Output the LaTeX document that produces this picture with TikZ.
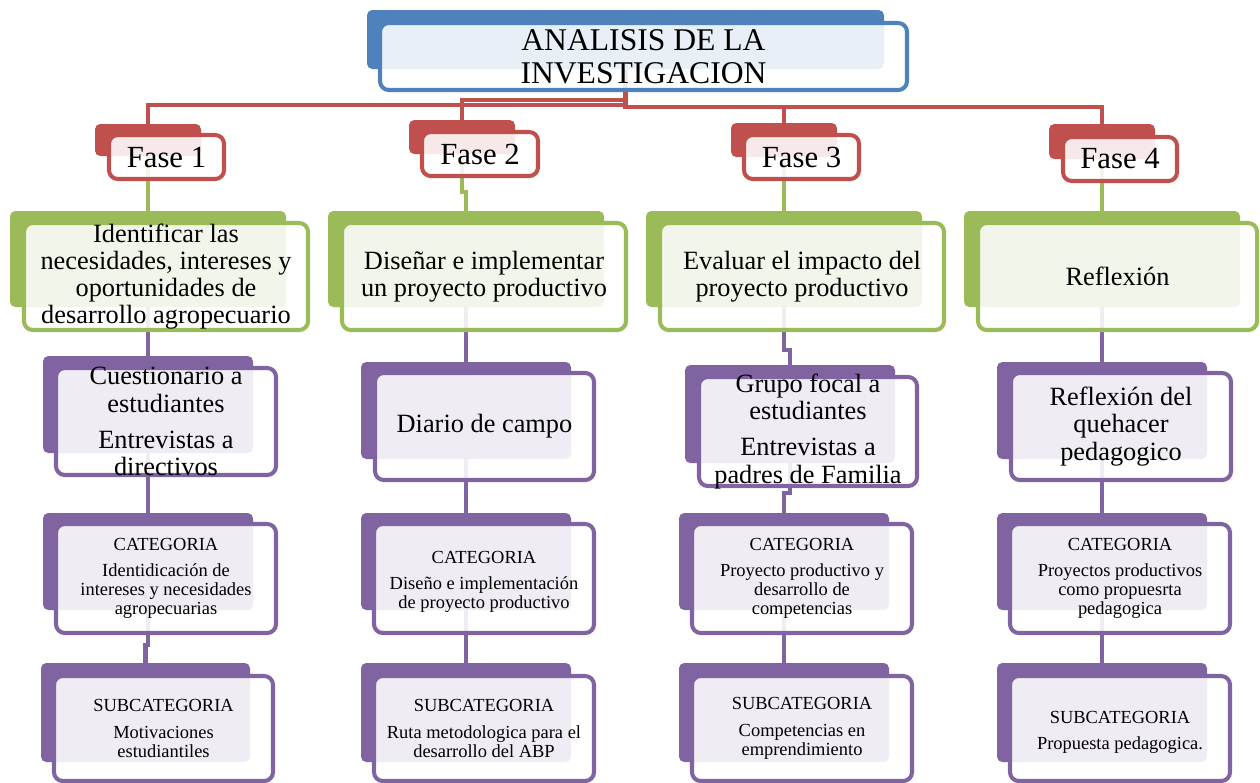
\documentclass[tikz,border=0pt]{standalone}
\usepackage{fontspec}
\setmainfont{Liberation Serif}
\usetikzlibrary{fit,backgrounds}
\definecolor{ttlBlue}{RGB}{79,129,189}
\definecolor{faseRed}{RGB}{192,80,77}
\definecolor{etapaGreen}{RGB}{155,187,89}
\definecolor{instPurple}{RGB}{128,100,162}

\begin{document}
\begin{tikzpicture}[x=0.02cm,y=-0.02cm]
  \tikzset{back/.style = {rounded corners=3pt, fill=#1, draw=none, inner sep=0pt}}
  \tikzset{front/.style = {rounded corners=5pt, draw=#1, line width=2.3pt, fill=white, fill opacity=0.88, inner sep=0pt}}
  \tikzset{link/.style = {draw=#1, line width=2.6pt}}
  \tikzset{txt/.style = {align=center, inner sep=0pt}}
  \tikzset{bigtxt/.style = {txt, font=\fontsize{15}{15.5}\selectfont}}
  \tikzset{smalltxt/.style = {txt, font=\fontsize{10.5}{10.9}\selectfont}}

\useasboundingbox (0,0) rectangle (1260,782);

\node[back=ttlBlue, fit={(367,10) (884,69)}] (tb) {};
\node[front=ttlBlue, fit={(380,23) (907,90)}] (tf) {};
\node[txt, font=\fontsize{18}{18.7}\selectfont] (tt) at (tf.center) {ANALISIS DE LA\\INVESTIGACION};

\node[back=faseRed, fit={(95,124) (201,156)}] (f1b) {};
\node[front=faseRed, fit={(109,135) (224,179)}] (f1) {};
\node[txt, font=\fontsize{17.5}{18}\selectfont] (f1t) at (f1.center) {Fase 1};
\node[back=faseRed, fit={(409,120) (515,154)}] (f2b) {};
\node[front=faseRed, fit={(422,132) (538,176)}] (f2) {};
\node[txt, font=\fontsize{17.5}{18}\selectfont] (f2t) at (f2.center) {Fase 2};
\node[back=faseRed, fit={(731,123) (837,157)}] (f3b) {};
\node[front=faseRed, fit={(744,135) (859,179)}] (f3) {};
\node[txt, font=\fontsize{17.5}{18}\selectfont] (f3t) at (f3.center) {Fase 3};
\node[back=faseRed, fit={(1049,124) (1155,159)}] (f4b) {};
\node[front=faseRed, fit={(1063,137) (1177,181)}] (f4) {};
\node[txt, font=\fontsize{17.5}{18}\selectfont] (f4t) at (f4.center) {Fase 4};

\node[back=etapaGreen, fit={(10,211) (286,307)}] (e1b) {};
\node[front=etapaGreen, fit={(24,223) (308,330)}] (e1) {};
\node[bigtxt] (e1t) at (e1.center) {Identificar las\\necesidades, intereses y\\oportunidades de\\desarrollo agropecuario};
\node[back=etapaGreen, fit={(328,211) (604,307)}] (e2b) {};
\node[front=etapaGreen, fit={(342,223) (626,330)}] (e2) {};
\node[bigtxt] (e2t) at (e2.center) {Diseñar e implementar\\un proyecto productivo};
\node[back=etapaGreen, fit={(646,211) (922,307)}] (e3b) {};
\node[front=etapaGreen, fit={(660,223) (944,330)}] (e3) {};
\node[bigtxt] (e3t) at (e3.center) {Evaluar el impacto del\\proyecto productivo};
\node[back=etapaGreen, fit={(964,211) (1240,307)}] (e4b) {};
\node[front=etapaGreen, fit={(978,223) (1257,330)}] (e4) {};
\node[bigtxt] (e4t) at (e4.center) {Reflexión};

\node[back=instPurple, fit={(43,356) (253,453)}] (p11b) {};
\node[front=instPurple, fit={(56,368) (276,475)}] (p11) {};
\node[bigtxt] (p11t) at (p11.center) {Cuestionario a\\estudiantes\\[5pt]Entrevistas a\\directivos};
\node[back=instPurple, fit={(361,362) (571,459)}] (p21b) {};
\node[front=instPurple, fit={(375,373) (594,480)}] (p21) {};
\node[bigtxt] (p21t) at (p21.center) {Diario de campo};
\node[back=instPurple, fit={(685,365) (895,463)}] (p31b) {};
\node[front=instPurple, fit={(699,377) (917,486)}] (p31) {};
\node[bigtxt] (p31t) at (p31.center) {Grupo focal a\\estudiantes\\[5pt]Entrevistas a\\padres de Familia};
\node[back=instPurple, fit={(997,362) (1207,459)}] (p41b) {};
\node[front=instPurple, fit={(1011,373) (1231,480)}] (p41) {};
\node[bigtxt] (p41t) at (p41.center) {Reflexión del\\quehacer\\pedagogico};

\node[back=instPurple, fit={(43,513) (253,610)}] (p12b) {};
\node[front=instPurple, fit={(56,524) (276,633)}] (p12) {};
\node[smalltxt] (p12t) at (p12.center) {CATEGORIA\\[4pt]Identidicación de\\intereses y necesidades\\agropecuarias};
\node[back=instPurple, fit={(361,513) (571,610)}] (p22b) {};
\node[front=instPurple, fit={(374,524) (594,633)}] (p22) {};
\node[smalltxt] (p22t) at ([yshift=-2pt]p22.center) {CATEGORIA\\[4pt]Diseño e implementación\\de proyecto productivo};
\node[back=instPurple, fit={(679,513) (889,610)}] (p32b) {};
\node[front=instPurple, fit={(692,524) (912,633)}] (p32) {};
\node[smalltxt] (p32t) at (p32.center) {CATEGORIA\\[4pt]Proyecto productivo y\\desarrollo de\\competencias};
\node[back=instPurple, fit={(997,513) (1207,610)}] (p42b) {};
\node[front=instPurple, fit={(1010,524) (1230,633)}] (p42) {};
\node[smalltxt] (p42t) at (p42.center) {CATEGORIA\\[4pt]Proyectos productivos\\como propuesrta\\pedagogica};

\node[back=instPurple, fit={(41,663) (250,762)}] (p13b) {};
\node[front=instPurple, fit={(54,676) (273,781)}] (p13) {};
\node[smalltxt] (p13t) at (p13.center) {SUBCATEGORIA\\[4pt]Motivaciones\\estudiantiles};
\node[back=instPurple, fit={(361,663) (571,762)}] (p23b) {};
\node[front=instPurple, fit={(374,676) (594,781)}] (p23) {};
\node[smalltxt] (p23t) at (p23.center) {SUBCATEGORIA\\[4pt]Ruta metodologica para el\\desarrollo del ABP};
\node[back=instPurple, fit={(679,663) (889,762)}] (p33b) {};
\node[front=instPurple, fit={(692,676) (912,781)}] (p33) {};
\node[smalltxt] (p33t) at (p33.center) {SUBCATEGORIA\\[4pt]Competencias en\\emprendimiento};
\node[back=instPurple, fit={(997,663) (1207,762)}] (p43b) {};
\node[front=instPurple, fit={(1010,676) (1230,781)}] (p43) {};
\node[smalltxt] (p43t) at ([yshift=-2pt]p43.center) {SUBCATEGORIA\\[4pt]Propuesta pedagogica.};

\begin{scope}[on background layer]
  \draw[link=faseRed] (tb.center) -- (tb.center |- 0,105) -| (f1b.north);
  \draw[link=faseRed] (tb.center) -- (tb.center |- 0,100) -| (f2b.north);
  \draw[link=faseRed] (tb.center) -- (tb.center |- 0,107) -| (f3b.north);
  \draw[link=faseRed] (tb.center) -- (tb.center |- 0,107) -| (f4b.north);

  \draw[link=etapaGreen] (f1b.center) -- (e1b.north);
  \draw[link=etapaGreen] (f2b.center) -- (f2b.center |- 0,192) -| (e2b.north);
  \draw[link=etapaGreen] (f3b.center) -- (e3b.north);
  \draw[link=etapaGreen] (f4b.center) -- (e4b.north);

  \draw[link=instPurple] (e1b.center) -- (p11b.north);
  \draw[link=instPurple] (p11b.center) -- (p12b.north);
  \draw[link=instPurple] (p12b.center) -- (p12b.center |- 0,645) -| (p13b.north);
  \draw[link=instPurple] (e2b.center) -- (p21b.north);
  \draw[link=instPurple] (p21b.center) -- (p22b.north);
  \draw[link=instPurple] (p22b.center) -- (p23b.north);
  \draw[link=instPurple] (e3b.center) -- (e3b.center |- 0,350) -| (p31b.north);
  \draw[link=instPurple] (p31b.center) -- (p31b.center |- 0,493) -| (p32b.north);
  \draw[link=instPurple] (p32b.center) -- (p33b.north);
  \draw[link=instPurple] (e4b.center) -- (p41b.north);
  \draw[link=instPurple] (p41b.center) -- (p42b.north);
  \draw[link=instPurple] (p42b.center) -- (p43b.north);
\end{scope}

\end{tikzpicture}
\end{document}
